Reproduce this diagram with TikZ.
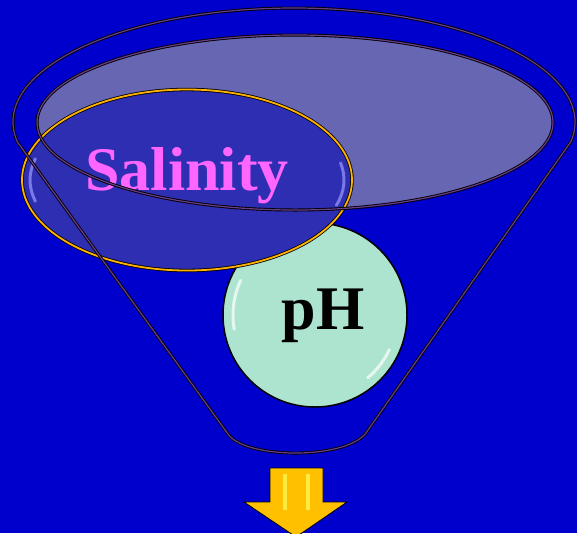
\documentclass[tikz,border=0pt]{standalone}
\usepackage{fontspec}
\setmainfont{Liberation Serif}
\usetikzlibrary{shapes.geometric}
\definecolor{bgblue}{HTML}{0000CC}
\definecolor{innerfill}{HTML}{6666B3}
\definecolor{salfill}{HTML}{2E2EB2}
\definecolor{goldline}{HTML}{FFB300}
\definecolor{mint}{HTML}{ADE4D0}
\definecolor{pinktext}{HTML}{FF66FF}
\definecolor{arrowgold}{HTML}{FFC000}
\definecolor{funnelpurple}{HTML}{6A3D8A}
\tikzset{
  funnelline/.style={draw=black, line width=0.9pt, double=funnelpurple, double distance=1.2pt},
  salbox/.style={ellipse, fill=salfill, draw=black, line width=0.8pt, double=goldline, double distance=1.8pt, minimum width=330pt, minimum height=181pt, inner sep=0pt},
  phbox/.style={circle, fill=mint, draw=black, line width=1.5pt, minimum size=184pt, inner sep=0pt},
  bigtext/.style={font=\bfseries\fontsize{62}{62}\selectfont, inner sep=0pt},
  glow/.style={line width=3pt, line cap=round, opacity=0.7},
}
\begin{document}
\begin{tikzpicture}[x=1pt,y=-1pt]
\useasboundingbox (0,0) rectangle (577,533);
\fill[bgblue] (0,0) rectangle (577,533);
\clip (0,0) rectangle (577,533);
% inner ellipse fill
\fill[innerfill] (295,122.5) ellipse[x radius=258, y radius=87.5];
% pH circle
\node[phbox] (ph) at (315,315) {};
\draw[glow, white] (ph.center) ++(170:82) arc[start angle=170, end angle=205, radius=82];
\draw[glow, white] (ph.center) ++(25:82) arc[start angle=25, end angle=50, radius=82];
\node[bigtext, text=black] (phtext) at (323,316) {pH};
% Salinity ellipse
\node[salbox] (sal) at (187,180) {};
\draw[glow, blue!40!white] (187,180) ++(165:157 and 82) arc[start angle=165, end angle=195, x radius=157, y radius=82];
\draw[glow, blue!40!white] (187,180) ++(-12:157 and 82) arc[start angle=-12, end angle=18, x radius=157, y radius=82];
\node[bigtext, text=pinktext] (saltext) at (187,176) {Salinity};
% inner ellipse stroke and funnel outline
\draw[funnelline] (295,122.5) ellipse[x radius=258, y radius=87.5];
\draw[funnelline] (17.3,141.8) arc[start angle=170, end angle=370, x radius=281, y radius=114]
  -- (368,430) .. controls (352,460) and (246,460) .. (228,434) -- cycle;
% arrow
\draw[fill=arrowgold, draw=black, line width=0.8pt] (270,468) -- (323,468) -- (323,502) -- (347,502) -- (296,537) -- (244,502) -- (270,502) -- cycle;
\fill[yellow!70!white, opacity=0.8] (283,474) rectangle (287,510);
\fill[yellow!70!white, opacity=0.8] (306,474) rectangle (310,510);
\end{tikzpicture}
\end{document}
